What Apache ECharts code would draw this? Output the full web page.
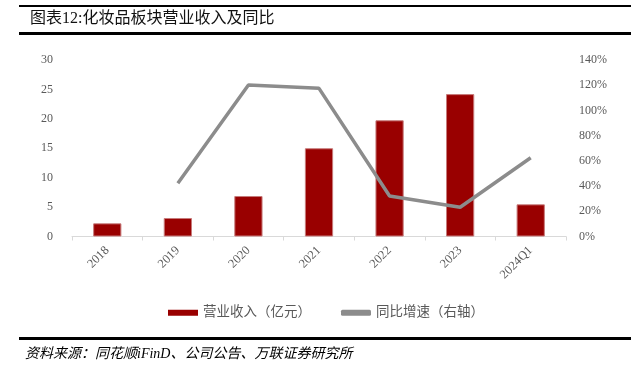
<!DOCTYPE html>
<html>
<head>
<meta charset="utf-8">
<script src="https://cdn.jsdelivr.net/npm/echarts@6/dist/echarts.min.js"></script>
<style>
html,body{margin:0;padding:0;background:#fff;}
#chart{width:637px;height:375px;}
</style>
</head>
<body>
<div id="chart"></div>
<script>
const categories = ['2018','2019','2020','2021','2022','2023','2024Q1'];
const revenue = [2.24, 3.14, 6.88, 15.0, 19.75, 24.2, 5.47];
const growth = [null, 42.2, 120.2, 117.5, 32.1, 23.2, 62.5];
const leftTicks = {min: 0, max: 30, interval: 5};
const rightTicks = {min: 0, max: 140, interval: 20};
const titleText = '图表12:化妆品板块营业收入及同比';
const sourceText = '资料来源：同花顺iFinD、公司公告、万联证券研究所';
const seriesNames = ['营业收入（亿元）', '同比增速（右轴）'];

const serif = "'Liberation Serif', 'Noto Sans CJK SC', serif";
const chart = echarts.init(document.getElementById('chart'));
chart.setOption({
  animation: false,
  backgroundColor: '#fff',
  graphic: [
    {type: 'rect', shape: {x: 19, y: 5, width: 612, height: 2}, style: {fill: '#000'}},
    {type: 'text', left: 30, top: 11, style: {text: titleText, font: "16px " + serif, fill: '#111'}},
    {type: 'rect', shape: {x: 19, y: 32, width: 612, height: 3}, style: {fill: '#000'}},
    {type: 'rect', shape: {x: 19, y: 337, width: 612, height: 3}, style: {fill: '#000'}},
    {type: 'text', left: 25, top: 347, style: {text: sourceText, font: "italic 14px " + serif, fill: '#000'}}
  ],
  legend: {
    left: 163, top: 301,
    itemWidth: 30, itemHeight: 6, itemGap: 30,
    textStyle: {color: '#595959', fontSize: 13.5, fontFamily: serif},
    data: [
      {name: seriesNames[0], icon: 'rect', itemStyle: {borderWidth: 0}},
      {name: seriesNames[1], icon: 'roundRect'}
    ]
  },
  grid: {left: 72, right: 71, top: 60, bottom: 138.5, containLabel: false},
  xAxis: {
    type: 'category',
    data: categories,
    axisLine: {lineStyle: {color: '#d9d9d9', width: 1}},
    axisTick: {show: true, length: 4, lineStyle: {color: '#d9d9d9'}},
    axisLabel: {rotate: 45, margin: 12, color: '#595959', fontSize: 12.5, fontFamily: serif}
  },
  yAxis: [
    {
      type: 'value', min: leftTicks.min, max: leftTicks.max, interval: leftTicks.interval,
      axisLine: {show: false}, axisTick: {show: false}, splitLine: {show: false},
      axisLabel: {margin: 19, color: '#595959', fontSize: 12, fontFamily: serif}
    },
    {
      type: 'value', min: rightTicks.min, max: rightTicks.max, interval: rightTicks.interval,
      axisLine: {show: false}, axisTick: {show: false}, splitLine: {show: false},
      axisLabel: {margin: 13, color: '#595959', fontSize: 12, fontFamily: serif, formatter: '{value}%'}
    }
  ],
  series: [
    {
      name: seriesNames[0], type: 'bar', data: revenue, barWidth: '40%',
      itemStyle: {color: '#990000', borderColor: '#c77a7a', borderWidth: 1}
    },
    {
      name: seriesNames[1], type: 'line', yAxisIndex: 1, data: growth,
      symbol: 'none', connectNulls: false,
      lineStyle: {color: '#8c8c8c', width: 3.5},
      itemStyle: {color: '#8c8c8c'}
    }
  ]
});
</script>
</body>
</html>
